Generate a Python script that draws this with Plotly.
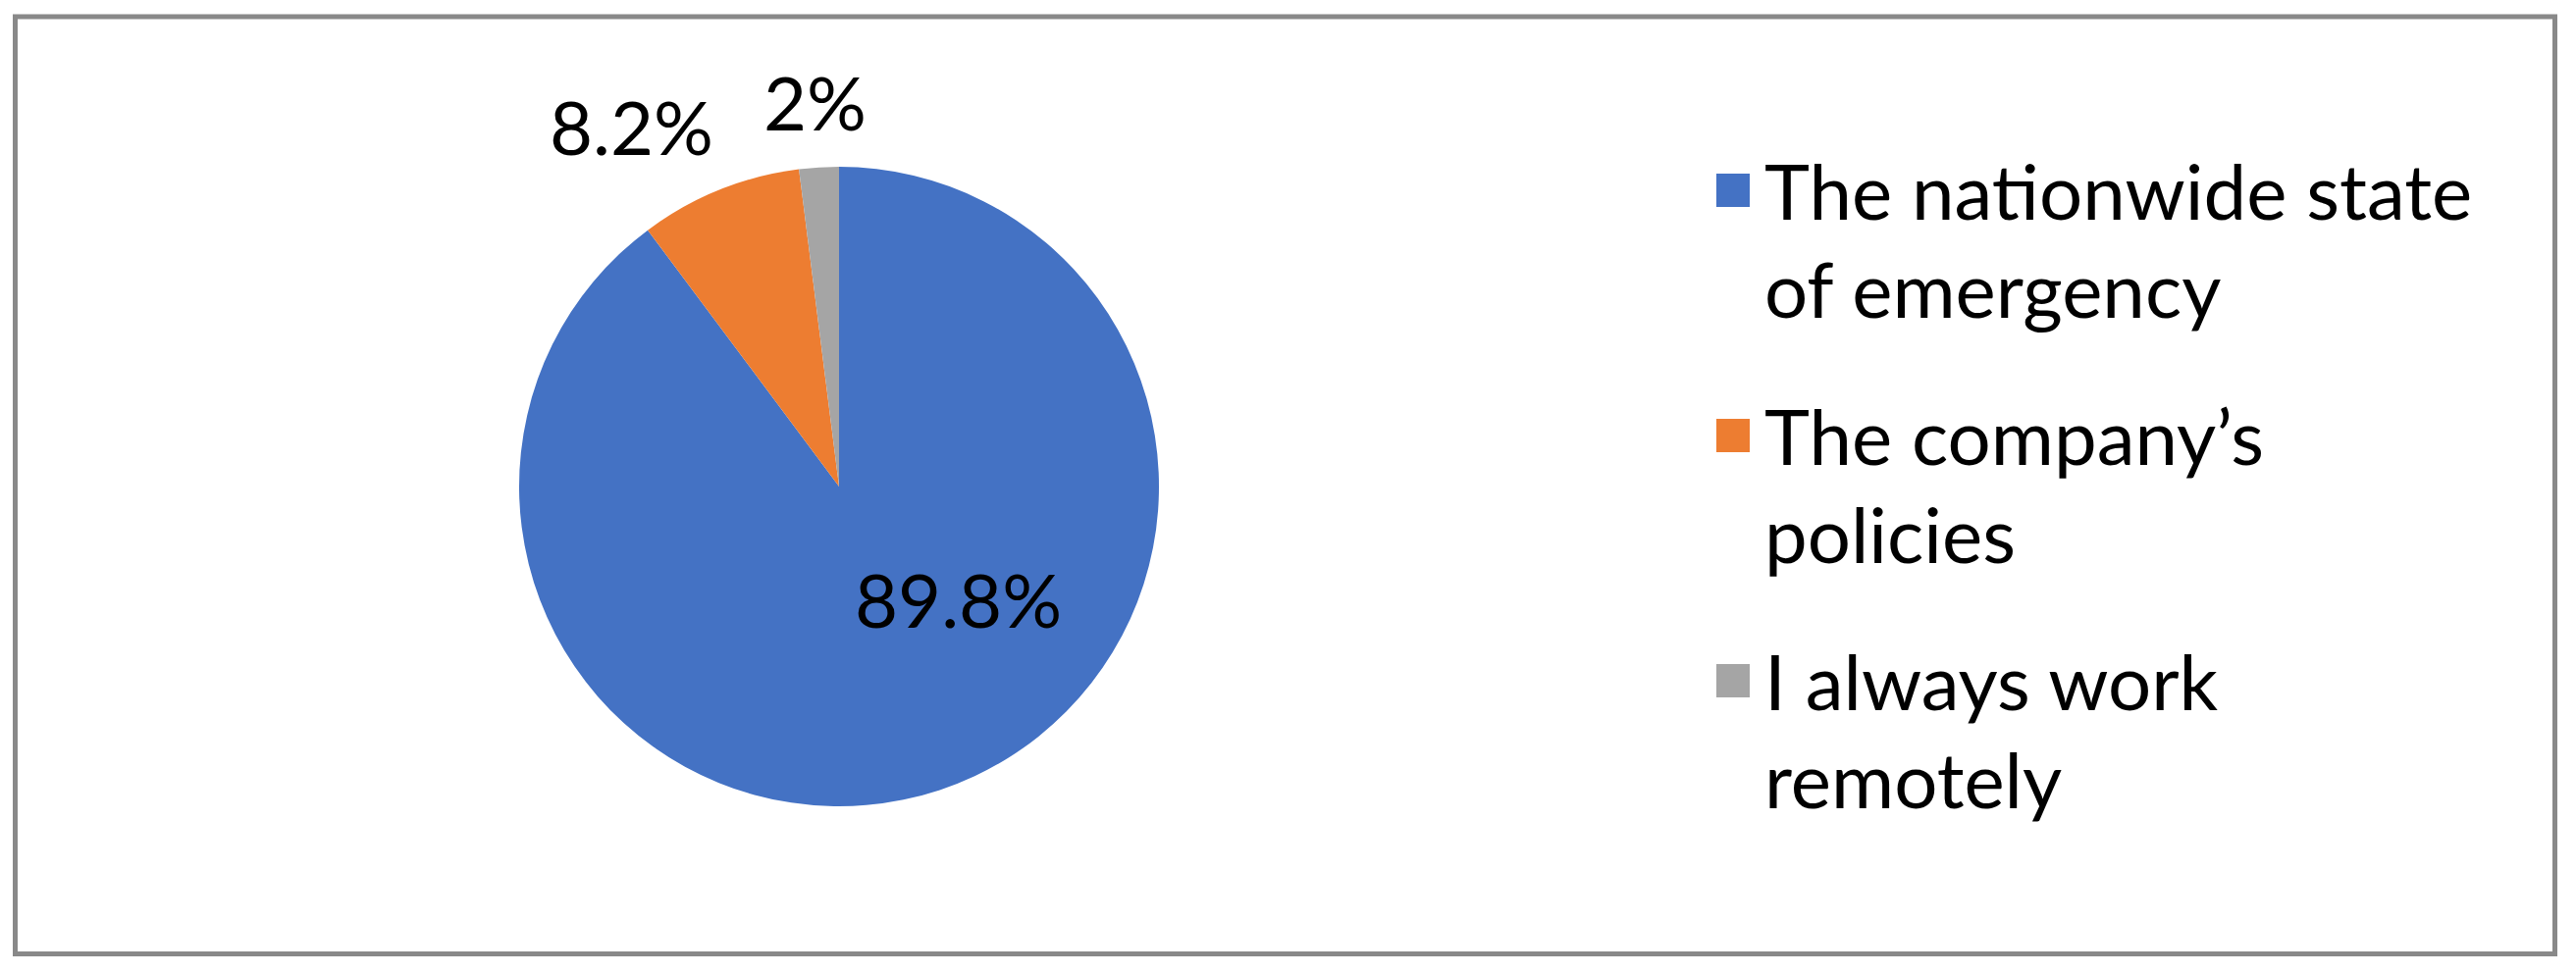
import plotly.graph_objects as go

# data
reasons = ["The nationwide state\nof emergency", "The company\u2019s\npolicies", "I always work\nremotely"]
shares = [89.8, 8.2, 2]
colors = ["#4472C4", "#ED7D31", "#A5A5A5"]

W, H = 2625, 993
FONT = "Lato"


def px_x(x):
    return x / W


def px_y(y):
    return 1 - y / H


# pie centre (855, 496) radius ~326 in pixels
cx, cy, r = 855, 496, 326

fig = go.Figure(
    go.Pie(
        labels=[s.replace("\n", " ") for s in reasons],
        values=shares,
        marker=dict(colors=colors),
        sort=False,
        direction="clockwise",
        rotation=0,
        textinfo="none",
        domain=dict(x=[px_x(cx - r), px_x(cx + r)], y=[px_y(cy + r), px_y(cy - r)]),
        showlegend=False,
        hoverinfo="label+percent",
    )
)

# data labels placed like Excel's "best fit"
label_pos = [(976, 610), (643, 128), (830, 103)]
for v, (lx, ly) in zip(shares, label_pos):
    fig.add_annotation(
        xref="paper", yref="paper",
        x=px_x(lx), y=px_y(ly),
        xanchor="center", yanchor="middle",
        text=f"{v:g}%", showarrow=False,
        font=dict(family=FONT, size=76, color="black"),
    )

# legend drawn by hand so the swatches can be Excel-sized
sw = 34
line_gap = 100
for i, (label, color) in enumerate(zip(reasons, colors)):
    yc = 194 + i * 250
    fig.add_shape(
        type="rect", xref="paper", yref="paper",
        x0=px_x(1749), x1=px_x(1749 + sw),
        y0=px_y(yc + sw / 2), y1=px_y(yc - sw / 2),
        fillcolor=color, line=dict(width=0),
    )
    for j, line in enumerate(label.split("\n")):
        fig.add_annotation(
            xref="paper", yref="paper",
            x=px_x(1796), y=px_y(yc + j * line_gap),
            xanchor="left", yanchor="middle",
            text=line, showarrow=False,
            font=dict(family=FONT, size=78, color="black"),
        )

# outer frame
fig.add_shape(
    type="rect", xref="paper", yref="paper",
    x0=px_x(15.5), x1=px_x(2603.5), y0=px_y(972.5), y1=px_y(17),
    line=dict(color="#898989", width=5), fillcolor="rgba(0,0,0,0)",
)

fig.update_layout(
    width=W, height=H,
    margin=dict(l=0, r=0, t=0, b=0),
    paper_bgcolor="white",
    plot_bgcolor="white",
)

# drop the page's default body margin so the figure sits at (0, 0)
fig.write_html(
    "out.html",
    config={"displayModeBar": False},
    post_script="document.body.style.margin='0px';",
)
